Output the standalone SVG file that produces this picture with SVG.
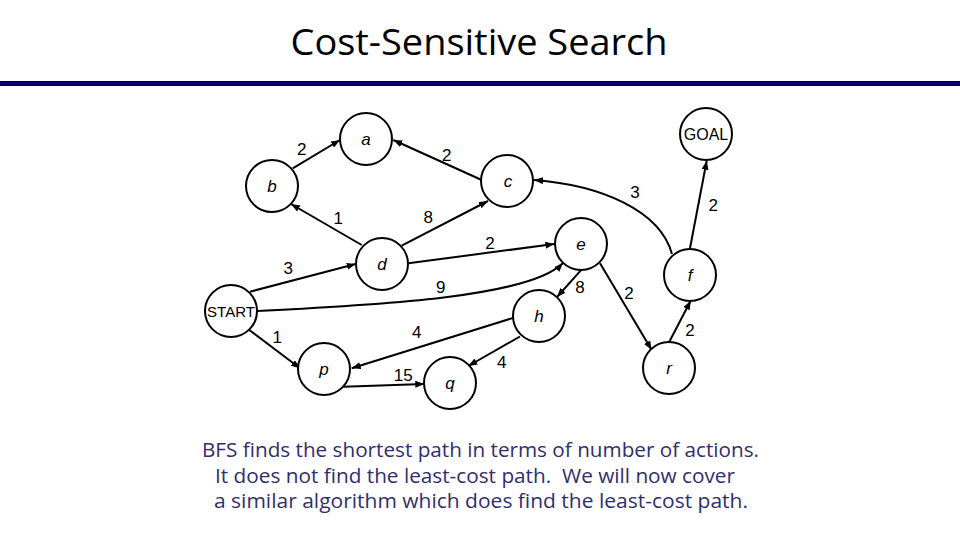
<svg xmlns="http://www.w3.org/2000/svg" width="960" height="540" viewBox="0 0 960 540">
<style>
.node circle{fill:#fff;stroke:#000;stroke-width:2}
.nl{font-family:"Liberation Sans",Arial,sans-serif;font-size:17px;font-style:italic;text-anchor:middle;fill:#000}
.nb{font-family:"Liberation Sans",Arial,sans-serif;text-anchor:middle;fill:#000}
.edges path{fill:none;stroke:#000;stroke-width:2;marker-end:url(#ah)}
.el{font-family:"Liberation Sans",Arial,sans-serif;font-size:17px;text-anchor:middle;fill:#000}
.cap{font-family:"Open Sans","Noto Sans",sans-serif;font-size:19.5px;text-anchor:middle;fill:#302E6E}
</style>
<defs>
<marker id="ah" markerUnits="userSpaceOnUse" markerWidth="10" markerHeight="8" refX="9" refY="3.5" orient="auto">
<path d="M0,0 L9,3.5 L0,7 z" fill="#000"/>
</marker>
<linearGradient id="bar" x1="0" y1="0" x2="0" y2="1">
<stop offset="0" stop-color="#000030"/>
<stop offset="0.5" stop-color="#0000A8"/>
<stop offset="1" stop-color="#000030"/>
</linearGradient>
</defs>
<rect width="960" height="540" fill="#fff"/>
<text x="479" y="55" font-family="'Open Sans','Noto Sans',sans-serif" font-size="36.5" text-anchor="middle" fill="#000" textLength="377" lengthAdjust="spacingAndGlyphs">Cost-Sensitive Search</text>
<rect x="0" y="81" width="960" height="5" fill="url(#bar)"/>

<g class="edges" id="edges">
<path d="M292.7,168.3 L340,140"/>
<path d="M481.7,180 L393.3,140"/>
<path d="M361.7,245 L291,204"/>
<path d="M401.7,245.7 L488,201"/>
<path d="M250,291.7 L355.7,264"/>
<path d="M408.3,263.3 L554.3,244"/>
<path d="M257,311 C380,305 530,297 563,263"/>
<path d="M672,254 C660,210 600,185 534,180"/>
<path d="M690,248.3 L706.7,160.7"/>
<path d="M581.7,269.3 L557,297"/>
<path d="M600,263.3 L651.7,350"/>
<path d="M669.3,341.7 L690.7,300.7"/>
<path d="M515,317.3 L351.7,368.3"/>
<path d="M520,336.5 L468.3,366"/>
<path d="M249.3,330 L300,368.3"/>
<path d="M343.3,386.7 L424.3,384"/>
</g>

<g id="edge-labels">
<text class="el" x="301.7" y="154.5">2</text>
<text class="el" x="446.7" y="161">2</text>
<text class="el" x="338.3" y="224.3">1</text>
<text class="el" x="428.3" y="223.3">8</text>
<text class="el" x="288.3" y="274.3">3</text>
<text class="el" x="440.7" y="293.3">9</text>
<text class="el" x="490" y="249.3">2</text>
<text class="el" x="635" y="197.7">3</text>
<text class="el" x="713.3" y="211">2</text>
<text class="el" x="580" y="293.3">8</text>
<text class="el" x="629" y="299.3">2</text>
<text class="el" x="690" y="336">2</text>
<text class="el" x="501.7" y="367.7">4</text>
<text class="el" x="277.3" y="343.3">1</text>
<text class="el" x="416.7" y="337.7">4</text>
<text class="el" x="403.3" y="381">15</text>
</g>

<g class="node" id="node-a"><circle cx="366" cy="139" r="26"/><text class="nl" x="366" y="145">a</text></g>
<g class="node" id="node-b"><circle cx="272" cy="186" r="26"/><text class="nl" x="272" y="192">b</text></g>
<g class="node" id="node-c"><circle cx="507" cy="181" r="26"/><text class="nl" x="508" y="187">c</text></g>
<g class="node" id="node-d"><circle cx="382" cy="264" r="26"/><text class="nl" x="382" y="270">d</text></g>
<g class="node" id="node-e"><circle cx="581" cy="244" r="26"/><text class="nl" x="581" y="250">e</text></g>
<g class="node" id="node-f"><circle cx="690" cy="275" r="26"/><text class="nl" x="690" y="281">f</text></g>
<g class="node" id="node-goal"><circle cx="706" cy="134" r="26"/><text class="nb" x="706" y="140" font-size="16">GOAL</text></g>
<g class="node" id="node-h"><circle cx="539" cy="316" r="26"/><text class="nl" x="539" y="322">h</text></g>
<g class="node" id="node-r"><circle cx="669" cy="368" r="26"/><text class="nl" x="669" y="374">r</text></g>
<g class="node" id="node-start"><circle cx="231" cy="311" r="26"/><text class="nb" x="231" y="316.5" font-size="15">START</text></g>
<g class="node" id="node-p"><circle cx="324" cy="369" r="26"/><text class="nl" x="324" y="375">p</text></g>
<g class="node" id="node-q"><circle cx="450" cy="383" r="26"/><text class="nl" x="450" y="389">q</text></g>

<g id="caption">
<text class="cap" x="480.5" y="456.7" textLength="557" lengthAdjust="spacingAndGlyphs">BFS finds the shortest path in terms of number of actions.</text>
<text class="cap" x="475" y="483" textLength="520" lengthAdjust="spacingAndGlyphs">It does not find the least-cost path.&#160; We will now cover</text>
<text class="cap" x="481" y="508" textLength="534" lengthAdjust="spacingAndGlyphs">a similar algorithm which does find the least-cost path.</text>
</g>
</svg>
